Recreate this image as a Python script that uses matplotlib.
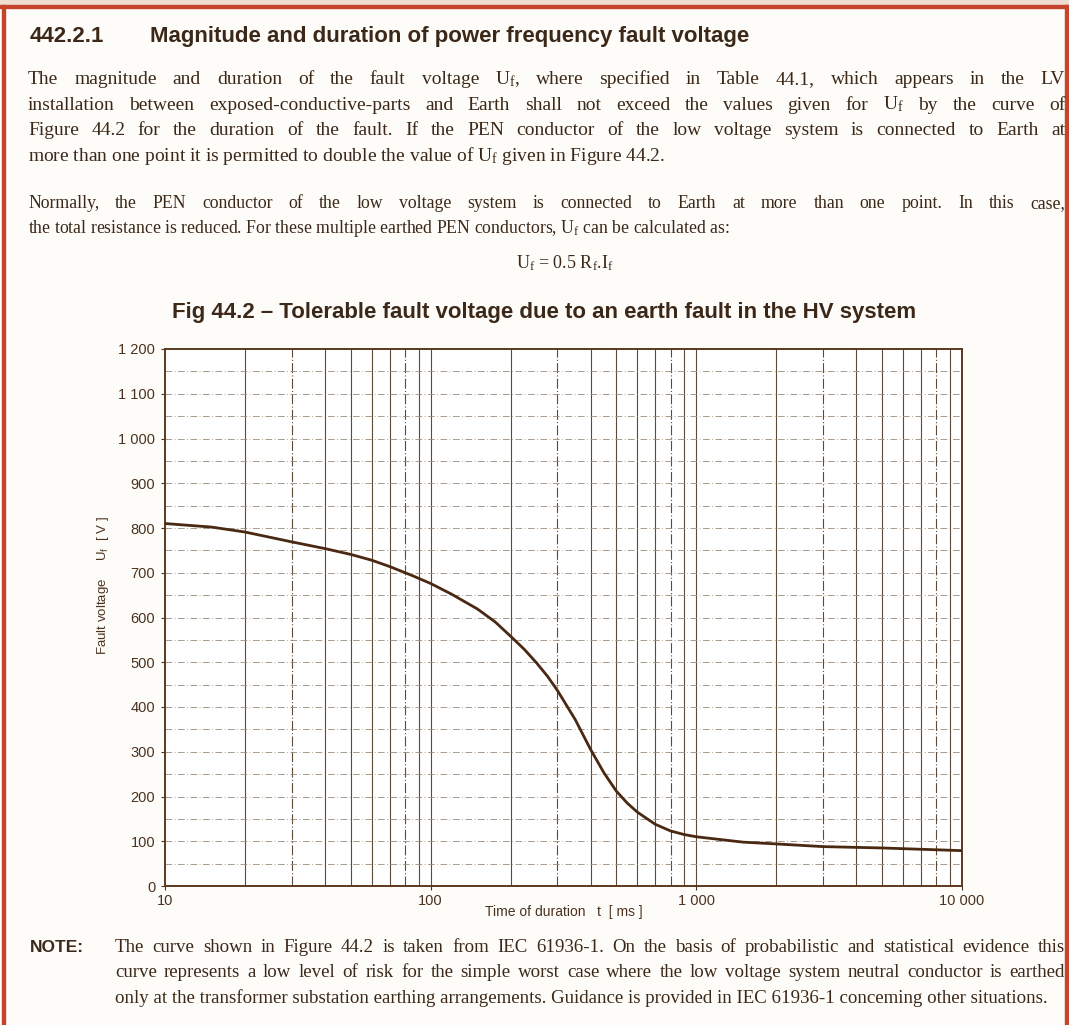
import matplotlib
matplotlib.use('Agg')
import matplotlib.pyplot as plt
from matplotlib.patches import Rectangle

# curve (time in ms, tolerable fault voltage in V)
t_ms = [10, 15, 20, 30, 40, 50, 60, 70, 85, 100, 120, 150, 175, 200, 225, 250, 275,
        300, 350, 400, 450, 500, 550, 600, 700, 800, 900, 1000, 1500, 2000, 3000,
        5000, 10000]
u_volt = [810, 802, 791, 769, 754, 741, 728, 714, 694, 676, 652, 619, 590, 558, 529,
          499, 469, 437, 372, 305, 252, 212, 185, 165, 138, 123, 115, 110, 98, 94, 88,
          85, 79]

x_ticks = [10, 100, 1000, 10000]
x_ticklabels = ['10', '100', '1 000', '10 000']
y_ticks = list(range(0, 1201, 100))
y_ticklabels = ['0', '100', '200', '300', '400', '500', '600', '700', '800', '900',
                '1 000', '1 100', '1 200']

heading_num = '442.2.1'
heading = 'Magnitude and duration of power frequency fault voltage'
para1 = ['The magnitude and duration of the fault voltage U$_f$, where specified in Table 44.1, which appears in the LV',
         'installation between exposed-conductive-parts and Earth shall not exceed the values given for U$_f$ by the curve of',
         'Figure 44.2 for the duration of the fault. If the PEN conductor of the low voltage system is connected to Earth at',
         'more than one point it is permitted to double the value of U$_f$ given in Figure 44.2.']
para2 = ['Normally, the PEN conductor of the low voltage system is connected to Earth at more than one point. In this case,',
         'the total resistance is reduced. For these multiple earthed PEN conductors, U$_f$ can be calculated as:']
formula = 'U$_f$ = 0.5 R$_f$.I$_f$'
fig_title = 'Fig 44.2 \u2013 Tolerable fault voltage due to an earth fault in the HV system'
note = ['The curve shown in Figure 44.2 is taken from IEC 61936-1. On the basis of probabilistic and statistical evidence this',
        'curve represents a low level of risk for the simple worst case where the low voltage system neutral conductor is earthed',
        'only at the transformer substation earthing arrangements. Guidance is provided in IEC 61936-1 conceming other situations.']

plt.rcParams['mathtext.default'] = 'regular'
ink = '#3b2818'
brown = '#4a3220'
serif = 'Liberation Serif'
sans = 'Liberation Sans'

W, H = 1069, 1025
fig = plt.figure(figsize=(W / 100, H / 100), dpi=100, facecolor='#fefcf9')
rend = fig.canvas.get_renderer()


def fx(x):
    return x / W


def fy(y):
    return 1 - y / H


def width_of(s, size, **kw):
    t = fig.text(0, 0, s, fontsize=size, **kw)
    w = t.get_window_extent(rend).width
    t.remove()
    return w


def fit_size(s, target, **kw):
    return 10 * target / width_of(s, 10, **kw)


def put(s, x0, y, size, x1=None, **kw):
    kw.setdefault('color', ink)
    if x1 is None:
        fig.text(fx(x0), fy(y), s, fontsize=size, va='baseline', **kw)
        return
    words = s.split(' ')
    texts = [fig.text(0, fy(y), w, fontsize=size, va='baseline', **kw) for w in words]
    widths = [t.get_window_extent(rend).width for t in texts]
    gap = (x1 - x0 - sum(widths)) / (len(words) - 1)
    x = x0
    for t, w in zip(texts, widths):
        t.set_x(fx(x))
        x += w + gap


# page frame (scanned page edge)
fig.patches.append(Rectangle((0, fy(4)), 1, 4 / H, transform=fig.transFigure,
                             color='#f1dcd0', zorder=0))
fig.patches.append(Rectangle((0, fy(8)), 1, 3 / H, transform=fig.transFigure,
                             color='#c4452b', zorder=1))
fig.patches.append(Rectangle((fx(2), 0), 3 / W, fy(5), transform=fig.transFigure,
                             color='#c4452b', zorder=1))
fig.patches.append(Rectangle((fx(1065), 0), 3 / W, fy(5), transform=fig.transFigure,
                             color='#c4452b', zorder=1))

# heading
hs = fit_size(heading, 602, family=sans, weight='bold')
put(heading_num, 30, 42, hs, family=sans, weight='bold')
put(heading, 150, 42, hs, family=sans, weight='bold')

# paragraphs
right = 1065
s1 = min(14, fit_size(para1[-1], 710, family=serif))
for i, line in enumerate(para1):
    y = 84 + i * 25.7
    if i < len(para1) - 1:
        put(line, 28, y, s1, x1=right, family=serif)
    else:
        put(line, 28, y, s1, family=serif)

s2 = fit_size(para2[-1], 700, family=serif)
put(para2[0], 28, 208, s2, x1=right, family=serif)
put(para2[1], 28, 233, s2, family=serif)

fig.text(fx(565), fy(268), formula, fontsize=13, family=serif, color=ink,
         ha='center', va='baseline')

# figure title
ts = fit_size(fig_title, 746, family=sans, weight='bold')
fig.text(fx(172), fy(318), fig_title, fontsize=ts, family=sans, weight='bold',
         color=ink, va='baseline')

# note
put('NOTE:', 30, 952, 12.5, family=sans, weight='bold')
s3 = fit_size(note[-1], 933, family=serif)
put(note[0], 115, 952, s3, x1=right, family=serif)
put(note[1], 115, 977, s3, x1=right, family=serif)
put(note[2], 115, 1003, s3, family=serif)

# chart
ax = fig.add_axes([fx(165), fy(886), 797 / W, 537 / H])
ax.set_facecolor('white')
ax.set_xscale('log')
ax.set_xlim(10, 10000)
ax.set_ylim(0, 1200)

for dec in (10, 100, 1000):
    for m in range(2, 11):
        v = dec * m
        if v >= 10000:
            continue
        ls = (0, (9, 2, 1, 2)) if m in (3, 8) else '-'
        ax.axvline(v, color='#5d4a38', lw=0.8, ls=ls, zorder=1)
for v in range(50, 1200, 50):
    ax.axhline(v, color='#9a8a7a', lw=0.6, ls=(0, (8, 3, 1, 3)), zorder=1)

ax.plot(t_ms, u_volt, color='#4a2812', lw=2.0, solid_joinstyle='round',
        solid_capstyle='round', zorder=3)

ax.set_xticks(x_ticks)
ax.set_xticklabels(x_ticklabels)
ax.minorticks_off()
ax.set_yticks(y_ticks)
ax.set_yticklabels(y_ticklabels)
ax.tick_params(axis='both', length=3, width=0.8, color=brown, labelsize=10.5,
               labelcolor=brown, pad=4)
ax.tick_params(axis='x', pad=3)
for lab in ax.get_xticklabels() + ax.get_yticklabels():
    lab.set_family(sans)
for sp in ax.spines.values():
    sp.set_color('#5a3a20')
    sp.set_linewidth(1.4)

ax.set_xlabel('Time of duration   t  [ ms ]', fontsize=10, family=sans, color=brown)
ax.xaxis.set_label_coords(0.5, -0.035)
ax.set_ylabel('Fault voltage     U$_f$  [ V ]', fontsize=9.5, family=sans, color=brown)
ax.yaxis.set_label_coords(-0.068, 0.56)

fig.savefig('out.png', dpi=100, facecolor=fig.get_facecolor())
